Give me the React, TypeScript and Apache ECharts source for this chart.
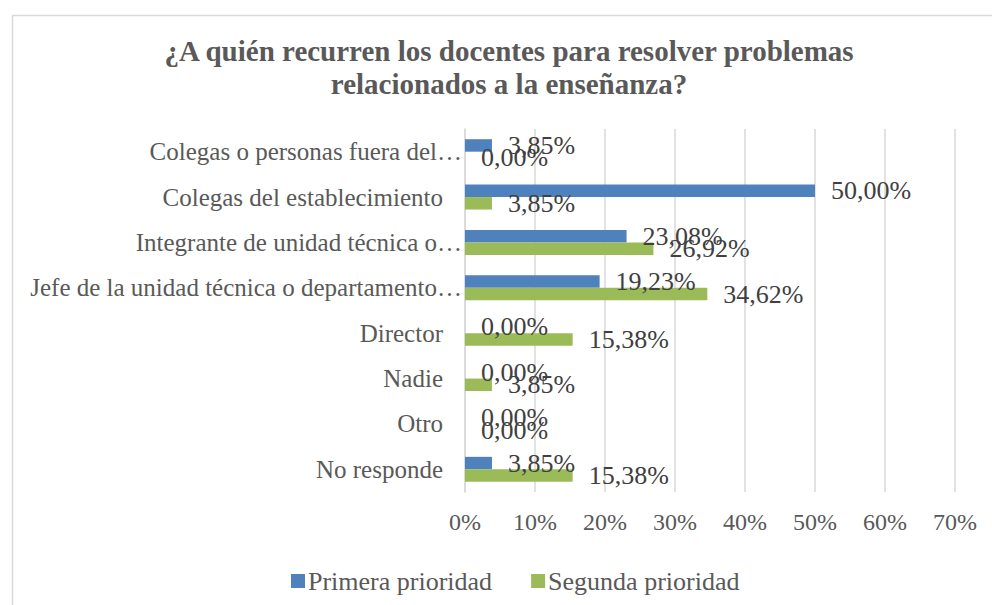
import React, { useEffect, useRef } from "react";
import * as echarts from "echarts";

const categories = [
  "Colegas o personas fuera del…",
  "Colegas del establecimiento",
  "Integrante de unidad técnica o…",
  "Jefe de la unidad técnica o departamento…",
  "Director",
  "Nadie",
  "Otro",
  "No responde",
];
const truncated = [true, false, true, true, false, false, false, false];
const primera = [3.85, 50.0, 23.08, 19.23, 0.0, 0.0, 0.0, 3.85];
const segunda = [0.0, 3.85, 26.92, 34.62, 15.38, 3.85, 0.0, 15.38];
const seriesNames = ["Primera prioridad", "Segunda prioridad"];
const titleText = "¿A quién recurren los docentes para resolver problemas\nrelacionados a la enseñanza?";

const FONT = "'Liberation Serif', serif";

export default function App() {
  const ref = useRef<HTMLDivElement>(null);
  useEffect(() => {
    if (!ref.current) return;
    const chart = echarts.init(ref.current, null, { renderer: "svg" });
    const fmt = (p: any) => Number(p.value).toFixed(2).replace(".", ",") + "%";
    const labelCfg = {
      show: true,
      position: "right",
      distance: 16,
      formatter: fmt,
      color: "#404040",
      fontSize: 26,
      fontFamily: FONT,
    };
    chart.setOption({
      animation: false,
      backgroundColor: "#ffffff",
      textStyle: { fontFamily: FONT },
      graphic: [
        {
          type: "rect",
          left: 10,
          top: 13,
          shape: { x: 0, y: 0, width: 1000, height: 700 },
          style: { fill: "none", stroke: "#D9D9D9", lineWidth: 1.5 },
          silent: true,
        },
        {
          type: "text",
          x: 509,
          y: 34,
          silent: true,
          style: {
            text: titleText,
            align: "center",
            verticalAlign: "top",
            fontFamily: FONT,
            fontSize: 29,
            fontWeight: "bold",
            fill: "#595959",
            lineHeight: 33,
          },
        },
      ],
      legend: {
        left: 286,
        top: 563,
        itemWidth: 14,
        itemHeight: 14,
        itemGap: 39,
        icon: "rect",
        textStyle: { fontFamily: FONT, fontSize: 26, color: "#595959", padding: [0, 0, 0, -2] },
        data: seriesNames,
      },
      grid: { left: 465, right: 37, top: 129, bottom: 113, containLabel: false },
      xAxis: {
        type: "value",
        min: 0,
        max: 70,
        interval: 10,
        axisLabel: {
          formatter: (v: number) => v + "%",
          color: "#595959",
          fontSize: 24,
          fontFamily: FONT,
          margin: 18,
        },
        axisLine: { show: false },
        axisTick: { show: false },
        splitLine: { lineStyle: { color: "#D9D9D9", width: 1.5 } },
      },
      yAxis: {
        type: "category",
        inverse: true,
        data: categories,
        axisLine: { show: true, lineStyle: { color: "#D9D9D9", width: 1.5 } },
        axisTick: { show: false },
        axisLabel: {
          margin: 3,
          color: "#595959",
          fontSize: 25,
          fontFamily: FONT,
          formatter: (v: string, i: number) => (truncated[i] ? "{t|" + v + "}" : "{n|" + v + "}"),
          rich: {
            t: { fontSize: 25, fontFamily: FONT, color: "#595959" },
            n: { fontSize: 25, fontFamily: FONT, color: "#595959", padding: [0, 19, 0, 0] },
          },
        },
      },
      series: [
        {
          name: seriesNames[0],
          type: "bar",
          data: primera,
          itemStyle: { color: "#4F81BD" },
          barGap: "0%",
          barCategoryGap: "45%",
          label: labelCfg,
        },
        {
          name: seriesNames[1],
          type: "bar",
          data: segunda,
          itemStyle: { color: "#9BBB59" },
          barGap: "0%",
          barCategoryGap: "45%",
          label: labelCfg,
        },
      ],
    });
    return () => chart.dispose();
  }, []);
  return (
    <div
      ref={ref}
      style={{ position: "fixed", left: 0, top: 0, width: 992, height: 605 }}
    />
  );
}
